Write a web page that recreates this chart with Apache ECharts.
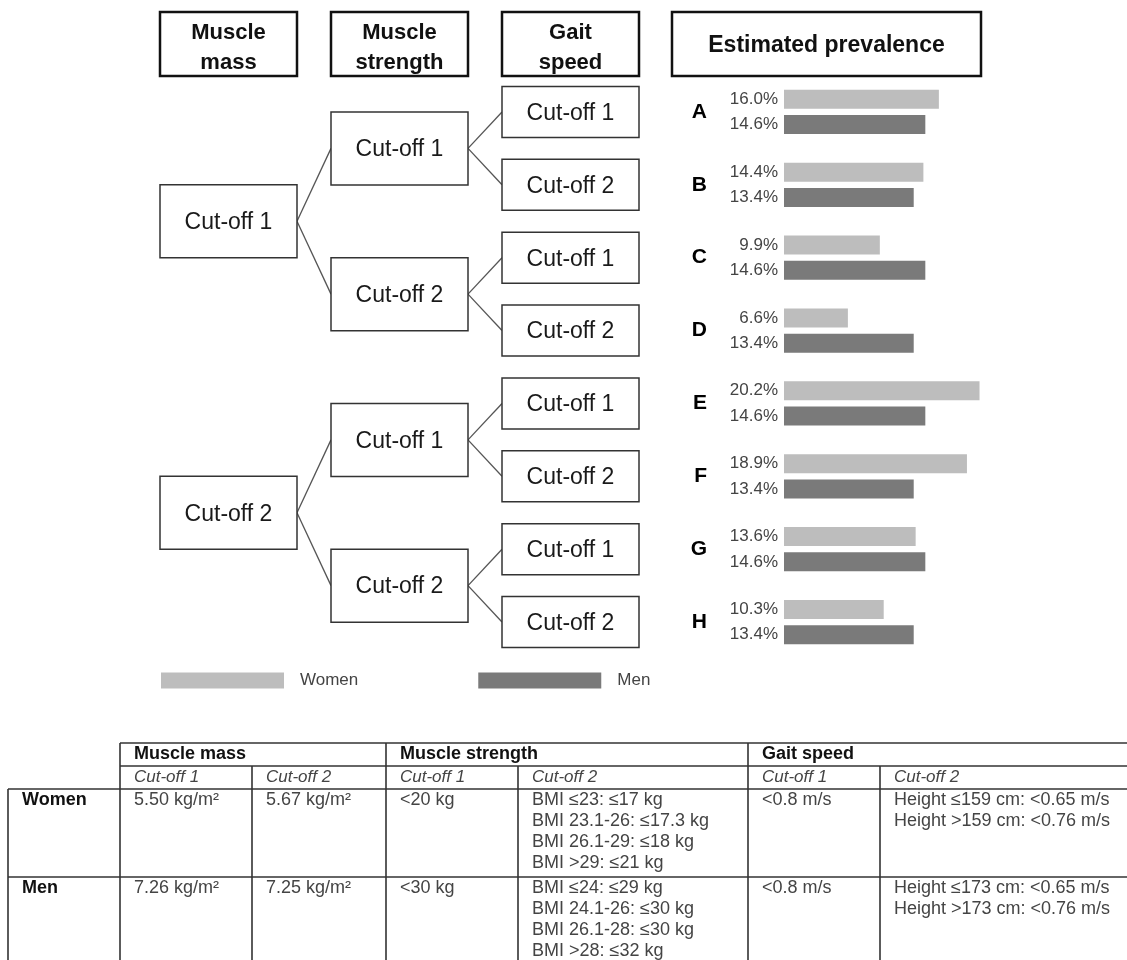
<!DOCTYPE html>
<html><head><meta charset="utf-8">
<script src="https://cdn.jsdelivr.net/npm/echarts@6/dist/echarts.min.js"></script>
<style>html,body{margin:0;padding:0;background:#fff}#main{width:1127px;height:960px}</style>
</head><body><div id="main"></div>
<script>
// ---------- data ----------
const categories = ['A','B','C','D','E','F','G','H'];
const women = [16.0,14.4,9.9,6.6,20.2,18.9,13.6,10.3];
const men = [14.6,13.4,14.6,13.4,14.6,13.4,14.6,13.4];
const seriesNames = ['Women','Men'];
const headerTitles = ['Muscle\nmass','Muscle\nstrength','Gait\nspeed'];
const prevalenceTitle = 'Estimated prevalence';
const cutoffLabels = ['Cut-off 1','Cut-off 2'];
const tableGroups = ['Muscle mass','Muscle strength','Gait speed'];
const tableSubheads = ['Cut-off 1','Cut-off 2','Cut-off 1','Cut-off 2','Cut-off 1','Cut-off 2'];
const tableRowLabels = ['Women','Men'];
const tableWomen = ['5.50 kg/m²','5.67 kg/m²','<20 kg',
  'BMI ≤23: ≤17 kg\nBMI 23.1-26: ≤17.3 kg\nBMI 26.1-29: ≤18 kg\nBMI >29: ≤21 kg',
  '<0.8 m/s','Height ≤159 cm: <0.65 m/s\nHeight >159 cm: <0.76 m/s'];
const tableMen = ['7.26 kg/m²','7.25 kg/m²','<30 kg',
  'BMI ≤24: ≤29 kg\nBMI 24.1-26: ≤30 kg\nBMI 26.1-28: ≤30 kg\nBMI >28: ≤32 kg',
  '<0.8 m/s','Height ≤173 cm: <0.65 m/s\nHeight >173 cm: <0.76 m/s'];

// ---------- layout ----------
const FONT = '"Liberation Sans", Arial, sans-serif';
const chart = echarts.init(document.getElementById('main'), null, {renderer:'canvas'});

chart.setOption({
  animation:false,
  backgroundColor:'#fff',
  grid:{left:784, top:75.5, width:290.4, height:583, outerBoundsMode:'none', containLabel:false},
  xAxis:{type:'value', min:0, max:30, show:false},
  yAxis:{type:'category', data:categories, inverse:true,
    axisLine:{show:false}, axisTick:{show:false}, splitLine:{show:false},
    axisLabel:{margin:77, color:'#000', fontWeight:'bold', fontSize:21, fontFamily:FONT}},
  legend:{left:161, top:672, padding:0, itemWidth:123, itemHeight:16, itemGap:120, icon:'rect',
    data:seriesNames,
    textStyle:{fontSize:17, color:'#444', fontFamily:FONT, padding:[0,0,0,11]}},
  series:[
    {type:'bar', name:seriesNames[0], data:women, barWidth:19, barGap:'33%',
     itemStyle:{color:'#bdbdbd'},
     label:{show:true, position:'left', distance:6, color:'#444', fontSize:17, fontFamily:FONT,
       formatter:p=>p.value.toFixed(1)+'%'}},
    {type:'bar', name:seriesNames[1], data:men, barWidth:19, barGap:'33%',
     itemStyle:{color:'#7a7a7a'},
     label:{show:true, position:'left', distance:6, color:'#444', fontSize:17, fontFamily:FONT,
       formatter:p=>p.value.toFixed(1)+'%'}}
  ]
});

// ---------- tree diagram (leaf rows tied to the bar chart's category axis) ----------
const g = [];
const levelX = [160, 331, 502];
const boxW = 137;
const boxH = [73, 73, 51];
const leafY = categories.map((c,i)=>{
  const v = chart.convertToPixel({yAxisIndex:0}, i);
  return Array.isArray(v) ? v[1] : v;
});
const strengthY = [];
for (let j=0;j<leafY.length/2;j++) strengthY.push((leafY[2*j]+leafY[2*j+1])/2);
const massY = [];
for (let j=0;j<strengthY.length/2;j++) massY.push((strengthY[2*j]+strengthY[2*j+1])/2);
const levels = [massY, strengthY, leafY];

function box(x,y,w,h,text,opt){
  opt = opt||{};
  g.push({type:'rect', shape:{x:x,y:y,width:w,height:h},
    style:{fill:'#fff', stroke:opt.stroke||'#333', lineWidth:opt.lw||1.5}});
  g.push({type:'text', x:x+w/2, y:y+h/2+(opt.dy||1.5), style:{text:text, align:'center', verticalAlign:'middle',
    font:(opt.bold?'bold ':'')+(opt.size||23)+'px '+FONT, fill:opt.fill||'#1a1a1a', lineHeight:opt.lh||25}});
}
function line(x1,y1,x2,y2,color,lw){
  g.push({type:'line', shape:{x1:x1,y1:y1,x2:x2,y2:y2}, style:{stroke:color||'#444', lineWidth:lw||1.3}});
}
// connectors
for (let L=0; L<2; L++){
  levels[L].forEach((py,i)=>{
    [0,1].forEach(k=>{
      const cy = levels[L+1][2*i+k];
      line(levelX[L]+boxW, py, levelX[L+1], cy, '#555', 1.3);
    });
  });
}
levels.forEach((arr,L)=>{
  arr.forEach((cy,i)=>{
    box(levelX[L], cy-boxH[L]/2, boxW, boxH[L], cutoffLabels[i%2]);
  });
});
// headers
headerTitles.forEach((t,i)=>box(levelX[i], 12, boxW, 64, t, {bold:true, stroke:'#111', lw:2.5, size:22, fill:'#111', lh:30, dy:4}));
box(672, 12, 309, 64, prevalenceTitle, {bold:true, stroke:'#111', lw:2.5, size:23, fill:'#111', dy:2});

// ---------- table ----------
const colX = [120,252,386,518,748,880];
const rowLabelX = 8;
const rightX = 1127, bottomY = 960;
const yTop = 743, ySub = 766, yRow1 = 789, yRow2 = 877;
const TL = '#333';
function tl(x1,y1,x2,y2){ line(x1,y1,x2,y2,TL,1.6); }
tl(colX[0], yTop, rightX, yTop);
tl(colX[0], ySub, rightX, ySub);
tl(rowLabelX, yRow1, rightX, yRow1);
tl(rowLabelX, yRow2, rightX, yRow2);
tl(rowLabelX, yRow1, rowLabelX, bottomY);
colX.forEach((x,i)=>{ tl(x, (i%2===0)?yTop:ySub, x, bottomY); });

function ttext(x,y,text,font,fill){
  g.push({type:'text', x:x, y:y, style:{text:text, align:'left', verticalAlign:'top',
    font:font, fill:fill||'#333', lineHeight:21}});
}
const pad = 14;
tableGroups.forEach((t,i)=>ttext(colX[2*i]+pad, yTop+0.5, t, 'bold 18px '+FONT, '#111'));
tableSubheads.forEach((t,i)=>ttext(colX[i]+pad, ySub+1, t, 'italic 17px '+FONT, '#444'));
tableRowLabels.forEach((t,i)=>ttext(rowLabelX+14, (i===0?yRow1:yRow2)+1, t, 'bold 18px '+FONT, '#111'));
[tableWomen, tableMen].forEach((row,r)=>{
  row.forEach((t,i)=>ttext(colX[i]+pad, (r===0?yRow1:yRow2)+1, t, '18px '+FONT, '#444'));
});

chart.setOption({graphic:{elements:g}});
</script></body></html>
